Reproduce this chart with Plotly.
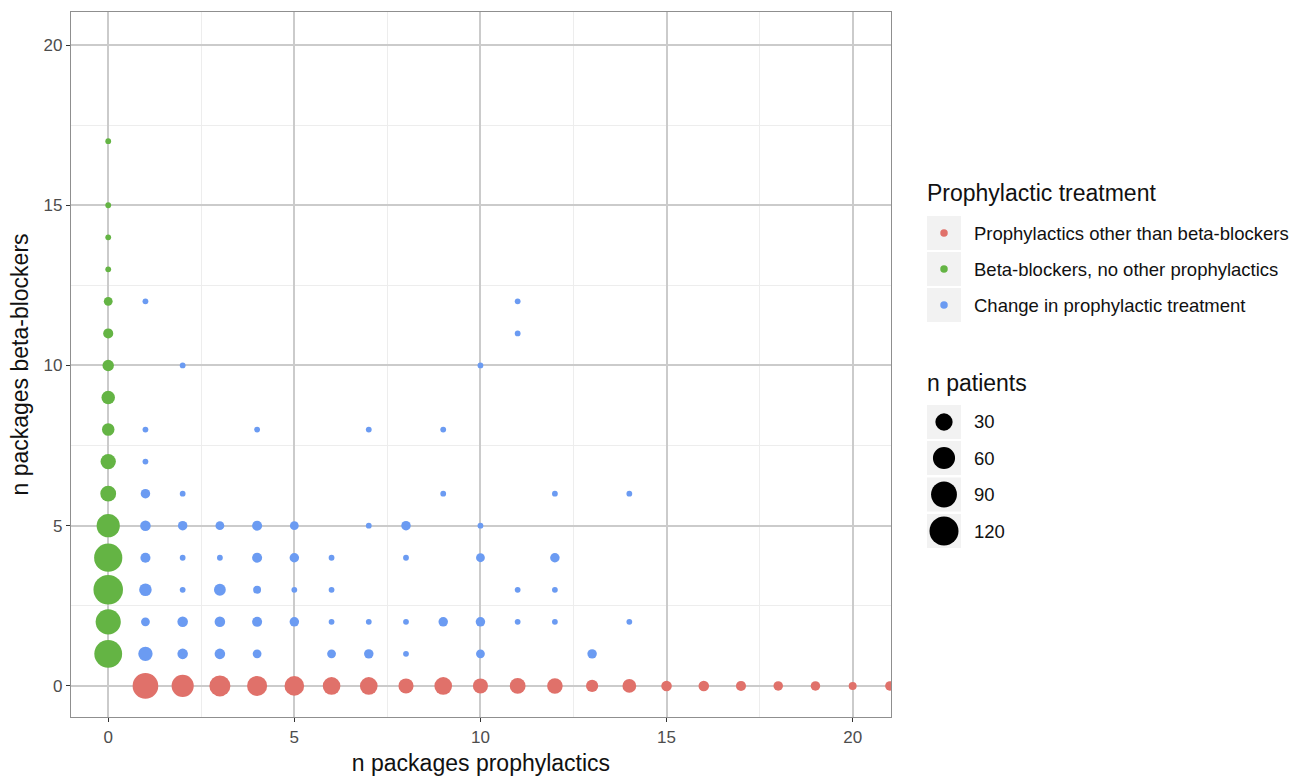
import numpy as np
import plotly.graph_objects as go

# ---------------- data ----------------
red_x = list(range(1, 22))
red_y = [0] * 21
red_n = [88, 60, 52, 46, 43, 32, 32, 20, 32, 20, 23, 22, 10, 15, 6, 6, 5, 4, 4, 2, 4]

green_x = [0] * 16
green_y = [1, 2, 3, 4, 5, 6, 7, 8, 9, 10, 11, 12, 13, 14, 15, 17]
green_n = [108, 84, 125, 112, 68, 23, 21, 11, 14, 8, 5, 3, 1, 1, 1, 1]

blue_x = [1, 1, 1, 1, 1, 1, 1, 1, 1,
          2, 2, 2, 2, 2, 2, 2,
          3, 3, 3, 3, 3,
          4, 4, 4, 4, 4, 4,
          5, 5, 5, 5,
          6, 6, 6, 6,
          7, 7, 7, 7,
          8, 8, 8, 8,
          9, 9, 9,
          10, 10, 10, 10, 10,
          11, 11, 11, 11,
          12, 12, 12, 12,
          13,
          14, 14]
blue_y = [12, 8, 7, 6, 5, 4, 3, 2, 1,
          10, 6, 5, 4, 3, 2, 1,
          5, 4, 3, 2, 1,
          8, 5, 4, 3, 2, 1,
          5, 4, 3, 2,
          4, 3, 2, 1,
          8, 5, 2, 1,
          5, 4, 2, 1,
          8, 6, 2,
          10, 5, 4, 2, 1,
          12, 11, 3, 2,
          6, 4, 3, 2,
          1,
          6, 2]
blue_n = [1, 1, 1, 4, 6, 5, 11, 3, 17,
          1, 1, 4, 1, 1, 6, 6,
          3, 1, 9, 6, 6,
          1, 5, 5, 2, 5, 3,
          3, 4, 1, 4,
          1, 1, 1, 3,
          1, 1, 1, 4,
          4, 1, 1, 1,
          1, 1, 4,
          1, 1, 3, 4, 3,
          1, 1, 1, 1,
          1, 4, 1, 1,
          4,
          1, 1]

group_names = ["Prophylactics other than beta-blockers",
               "Beta-blockers, no other prophylactics",
               "Change in prophylactic treatment"]
group_colors = ["#E0716A", "#64B444", "#6B9BF2"]
size_breaks = [30, 60, 90, 120]

x_ticks = [0, 5, 10, 15, 20]
y_ticks = [0, 5, 10, 15, 20]

# ---------------- size scale (area) ----------------
all_n = np.array(red_n + green_n + blue_n, dtype=float)
nmin, nmax = all_n.min(), all_n.max()


def size_px(n):
    n = np.asarray(n, dtype=float)
    return 5.8 + 23.7 * np.sqrt((n - nmin) / (nmax - nmin))


W, H = 1293, 778
L, R, T, B = 71, 891, 12, 717


def px_x(X):
    return (X - L) / (R - L)


def px_y(Y):
    return (B - Y) / (B - T)


FONT = "Liberation Sans, Arial"

fig = go.Figure()
for xs, ys, ns, name, col in [(red_x, red_y, red_n, group_names[0], group_colors[0]),
                              (green_x, green_y, green_n, group_names[1], group_colors[1]),
                              (blue_x, blue_y, blue_n, group_names[2], group_colors[2])]:
    fig.add_trace(go.Scatter(
        x=xs, y=ys, mode="markers", name=name, showlegend=False,
        customdata=ns,
        marker=dict(size=size_px(ns), color=col, opacity=1, line=dict(width=0)),
        hovertemplate="x=%{x}<br>y=%{y}<br>n=%{customdata}<extra></extra>",
    ))

axis_common = dict(
    automargin=False,
    showgrid=True, gridcolor="#CBCBCB", gridwidth=1.7,
    zeroline=False, showline=True, linecolor="#8F8F8F", linewidth=1.3, mirror=True,
    ticks="outside", ticklen=4, tickcolor="#333333", tickwidth=1,
    tickfont=dict(family=FONT, size=17, color="#4D4D4D"),
    minor=dict(dtick=2.5, showgrid=True, gridcolor="#EDEDED", gridwidth=1, ticks=""),
)

fig.update_xaxes(range=[-1, 21.03], tickvals=x_ticks, ticktext=[str(v) for v in x_ticks],
                 title=dict(text="n packages prophylactics", standoff=9,
                            font=dict(family=FONT, size=23, color="#111111")),
                 **axis_common)
fig.update_yaxes(range=[-0.97, 21.03], tickvals=y_ticks, ticktext=[str(v) for v in y_ticks],
                 title=dict(text="n packages beta-blockers", standoff=8,
                            font=dict(family=FONT, size=23, color="#111111")),
                 **axis_common)

shapes = []
annotations = []
font_title = dict(family=FONT, size=23, color="#111111")
font_lab = dict(family=FONT, size=18.5, color="#111111")

# legend 1: colours
annotations.append(dict(x=px_x(925), y=px_y(193), xref="paper", yref="paper", text="Prophylactic treatment",
                        showarrow=False, xanchor="left", yanchor="middle", font=font_title))
box_tops1 = [216, 252, 288]
for top, name, col in zip(box_tops1, group_names, group_colors):
    shapes.append(dict(type="rect", xref="paper", yref="paper", x0=px_x(927), x1=px_x(961),
                       y0=px_y(top + 34), y1=px_y(top), fillcolor="#F2F2F2", line=dict(width=0), layer="below"))
    cy = top + 17
    d = 7.5
    shapes.append(dict(type="circle", xref="paper", yref="paper", xsizemode="pixel", ysizemode="pixel",
                       xanchor=px_x(944), yanchor=px_y(cy), x0=-d / 2, x1=d / 2, y0=-d / 2, y1=d / 2,
                       fillcolor=col, line=dict(width=0)))
    annotations.append(dict(x=px_x(972), y=px_y(cy), xref="paper", yref="paper", text=name,
                            showarrow=False, xanchor="left", yanchor="middle", font=font_lab))

# legend 2: sizes
annotations.append(dict(x=px_x(925), y=px_y(383), xref="paper", yref="paper", text="n patients",
                        showarrow=False, xanchor="left", yanchor="middle", font=font_title))
box_tops2 = [405, 441, 477.5, 514]
for top, br in zip(box_tops2, size_breaks):
    shapes.append(dict(type="rect", xref="paper", yref="paper", x0=px_x(927), x1=px_x(961),
                       y0=px_y(top + 34), y1=px_y(top), fillcolor="#F2F2F2", line=dict(width=0), layer="below"))
    cy = top + 17
    d = float(size_px(br))
    shapes.append(dict(type="circle", xref="paper", yref="paper", xsizemode="pixel", ysizemode="pixel",
                       xanchor=px_x(944), yanchor=px_y(cy), x0=-d / 2, x1=d / 2, y0=-d / 2, y1=d / 2,
                       fillcolor="black", line=dict(width=0)))
    annotations.append(dict(x=px_x(972), y=px_y(cy), xref="paper", yref="paper", text=str(br),
                            showarrow=False, xanchor="left", yanchor="middle", font=font_lab))

fig.update_layout(
    width=W, height=H,
    margin=dict(l=L, r=W - R, t=T, b=H - B, pad=0, autoexpand=False),
    paper_bgcolor="white", plot_bgcolor="white",
    showlegend=False,
    shapes=shapes, annotations=annotations,
    font=dict(family=FONT),
)

fig.write_html("out.html", config={"responsive": False, "displayModeBar": False},
               post_script="document.body.style.margin='0';document.body.style.overflow='hidden';")
